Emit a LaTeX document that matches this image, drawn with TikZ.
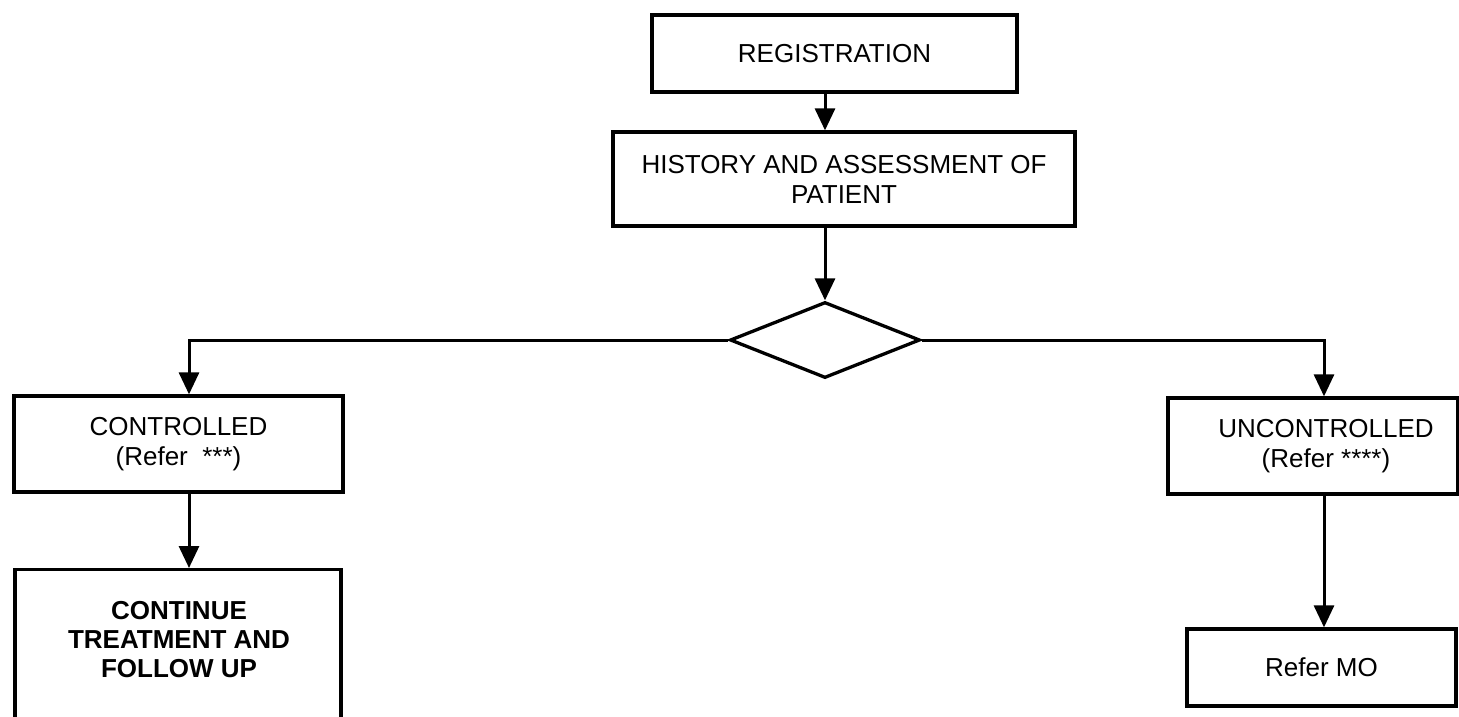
\documentclass[tikz,border=0pt]{standalone}
\usepackage{fontspec}
\setmainfont{Liberation Sans}
\usetikzlibrary{shapes.geometric,arrows.meta}
\begin{document}
\begin{tikzpicture}[x=1pt,y=-1pt,
  box/.style={draw, rectangle, line width=3.3pt, inner sep=0pt, align=center,
    font=\fontsize{26}{30}\selectfont},
  txt/.style={inner sep=0pt, align=center, font=\fontsize{26}{30}\selectfont},
  decision/.style={draw, diamond, line width=3.3pt, inner sep=0pt,
    minimum width=190pt, minimum height=76pt},
  arr/.style={line width=3pt, -{Triangle[width=20pt,length=22pt]}}]

\useasboundingbox (0,0) rectangle (1459,716);
\clip (0,0) rectangle (1459,716);

% main column
\node[box, minimum width=365pt, minimum height=77pt] (reg) at (834.5,53.5) {REGISTRATION};
\node[box, minimum width=462pt, minimum height=94pt] (hist) at (844,179)
  {HISTORY AND ASSESSMENT OF\\PATIENT};
\node[decision] (dec) at (825,340) {};

% turning points of the two branches
\coordinate (lturn) at (189,340);
\coordinate (rturn) at (1324,340);

% left branch
\node[box, minimum width=329pt, minimum height=96pt] (ctrl) at (178.5,444)
  {CONTROLLED\\(Refer~~***)};
\node[box, anchor=north, minimum width=326pt, minimum height=200pt] (cont) at (178,568) {};
\node[txt, font=\fontsize{26}{29}\selectfont\bfseries] (conttxt) at (179,640)
  {CONTINUE\\TREATMENT AND\\FOLLOW UP};

% right branch
\node[box, minimum width=290pt, minimum height=96pt] (unc) at (1313,446) {};
\node[txt] (unctxt) at (1326,446) {UNCONTROLLED\\(Refer ****)};
\node[box, minimum width=269pt, minimum height=77pt] (refmo) at (1321.5,667.5) {Refer MO};

% connectors
\draw[arr] (reg.south -| dec) -- (hist.north -| dec);
\draw[arr] (hist.south -| dec) -- (dec.north);
\draw[arr] (dec.west) -- (lturn) -- (ctrl.north -| lturn);
\draw[arr] (dec.east) -- (rturn) -- (unc.north -| rturn);
\draw[arr] (ctrl.south -| lturn) -- (cont.north -| lturn);
\draw[arr] (unc.south -| rturn) -- (refmo.north -| rturn);
\end{tikzpicture}
\end{document}
